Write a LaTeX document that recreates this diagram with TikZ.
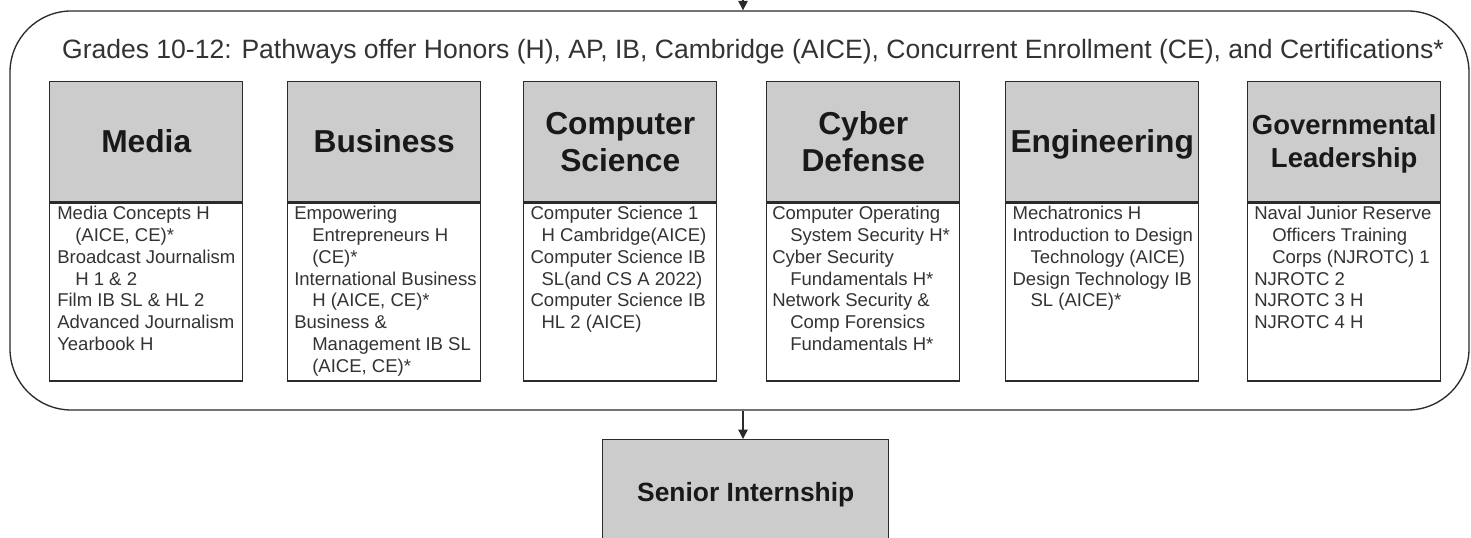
\documentclass[tikz,border=0pt]{standalone}
\usepackage{fontspec}
\setmainfont{Liberation Sans}
\usetikzlibrary{arrows.meta,positioning}
\definecolor{boxgrey}{HTML}{CCCCCC}
\definecolor{linedark}{HTML}{2B2B2B}
\definecolor{txtdark}{HTML}{333333}
\newcommand\hstr{\rule[-0.212em]{0pt}{1.117em}}
\newcommand\hin{\hspace*{13.5pt}}
\newcommand\hinc{\hspace*{8.25pt}}
\tikzset{
  container/.style={draw=linedark, line width=1pt, rounded corners=46pt,
    minimum width=1094.25pt, minimum height=299.25pt, inner sep=0pt},
  headbox/.style={draw=linedark, fill=boxgrey, line width=1.1pt, anchor=north west,
    minimum width=144.75pt, minimum height=90pt, inner sep=0pt, align=center,
    font=\fontsize{23.8pt}{27.75pt}\selectfont\bfseries, text=black!90},
  headsmall/.style={font=\fontsize{20.6pt}{24.75pt}\selectfont\bfseries},
  bodybox/.style={draw=linedark, fill=white, line width=1.1pt, anchor=north west,
    minimum width=144.75pt, minimum height=133.5pt, inner sep=0pt},
  bodytext/.style={anchor=north west, inner sep=0pt, align=left, text=txtdark,
    font=\fontsize{13.9pt}{16.3pt}\selectfont},
  titletext/.style={anchor=base, inner sep=0pt, text=txtdark,
    font=\fontsize{19.9pt}{23pt}\selectfont},
  seniorbox/.style={draw=linedark, fill=boxgrey, line width=1.1pt, anchor=north west,
    minimum width=214.5pt, minimum height=79.5pt, inner sep=0pt,
    font=\fontsize{19.8pt}{23pt}\selectfont\bfseries, text=black!90},
  flow/.style={draw=linedark, line width=1pt, -{Triangle[length=7pt,width=7pt]}}
}
\begin{document}
\begin{tikzpicture}[x=0.75pt,y=-0.75pt]
\useasboundingbox (0,0) rectangle (1471,538);
\clip (0,0) rectangle (1471,538);
\fill[white] (0,0) rectangle (1471,538);

% container
\node[container] (grades) at (739.5,210.5) {};
\node[titletext] (title) at (753,59) {Grades 10-12: Pathways offer Honors (H), AP, IB, Cambridge (AICE), Concurrent Enrollment (CE), and Certifications*};

% incoming arrow
\coordinate (in) at (743,-3);
\draw[flow] (in) -- (in |- grades.north);

% Media
\node[headbox] (mediah) at (49,81) {\hstr Media};
\node[bodybox] (mediab) at (mediah.south west) {};
\node[bodytext] (mediat) at ([xshift=6pt,yshift=-0.3pt]mediab.north west)
 {\hstr Media Concepts H\\ \hin\hstr(AICE, CE)*\\ \hstr Broadcast Journalism\\ \hin\hstr H 1 \& 2\\ \hstr Film IB SL \& HL 2\\ \hstr Advanced Journalism\\ \hstr Yearbook H};

% Business
\node[headbox] (busih) at (287,81) {\hstr Business};
\node[bodybox] (busib) at (busih.south west) {};
\node[bodytext] (busit) at ([xshift=5.25pt,yshift=-0.3pt]busib.north west)
 {\hstr Empowering\\ \hin\hstr Entrepreneurs H\\ \hin\hstr(CE)*\\ \hstr International Business\\ \hin\hstr H (AICE, CE)*\\ \hstr Business \&\\ \hin\hstr Management IB SL\\ \hin\hstr(AICE, CE)*};

% Computer Science
\node[headbox] (csh) at (523,81) {\hstr Computer\\ \hstr Science};
\node[bodybox] (csb) at (csh.south west) {};
\node[bodytext] (cst) at ([xshift=5.5pt,yshift=-0.3pt]csb.north west)
 {\hstr Computer Science 1\\ \hinc\hstr H Cambridge(AICE)\\ \hstr Computer Science IB\\ \hinc\hstr SL(and CS A 2022)\\ \hstr Computer Science IB\\ \hinc\hstr HL 2 (AICE)};

% Cyber Defense
\node[headbox] (cyh) at (766,81) {\hstr Cyber\\ \hstr Defense};
\node[bodybox] (cyb) at (cyh.south west) {};
\node[bodytext] (cyt) at ([xshift=4.5pt,yshift=-0.3pt]cyb.north west)
 {\hstr Computer Operating\\ \hin\hstr System Security H*\\ \hstr Cyber Security\\ \hin\hstr Fundamentals H*\\ \hstr Network Security \&\\ \hin\hstr Comp Forensics\\ \hin\hstr Fundamentals H*};

% Engineering
\node[headbox] (engh) at (1005,81) {\hstr Engineering};
\node[bodybox] (engb) at (engh.south west) {};
\node[bodytext] (engt) at ([xshift=5.5pt,yshift=-0.3pt]engb.north west)
 {\hstr Mechatronics H\\ \hstr Introduction to Design\\ \hin\hstr Technology (AICE)\\ \hstr Design Technology IB\\ \hin\hstr SL (AICE)*};

% Governmental Leadership
\node[headbox,headsmall] (govh) at (1247,81) {\hstr Governmental\\ \hstr Leadership};
\node[bodybox] (govb) at (govh.south west) {};
\node[bodytext] (govt) at ([xshift=5.25pt,yshift=-0.3pt]govb.north west)
 {\hstr Naval Junior Reserve\\ \hin\hstr Officers Training\\ \hin\hstr Corps (NJROTC) 1\\ \hstr NJROTC 2\\ \hstr NJROTC 3 H\\ \hstr NJROTC 4 H};

% Senior Internship
\node[seniorbox] (senior) at (602,439) {\hstr Senior Internship};
\coordinate (out) at (743,0);
\draw[flow] (out |- grades.south) -- (out |- senior.north);
\end{tikzpicture}
\end{document}
